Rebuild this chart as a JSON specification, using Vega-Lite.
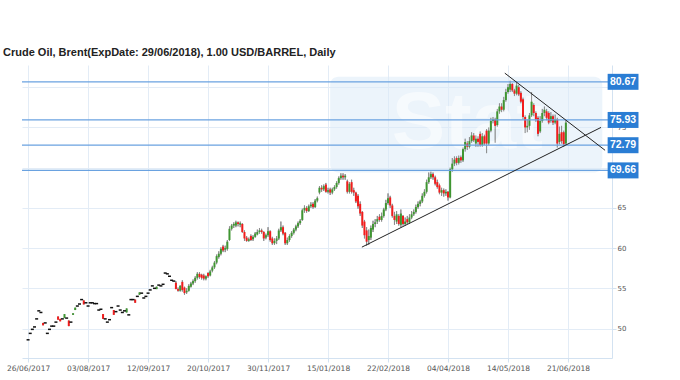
{
"$schema": "https://vega.github.io/schema/vega-lite/v6.json",
"width": 590, "height": 293,
"autosize": {"type": "none"},
"padding": {"left": 22, "top": 65, "right": 68, "bottom": 22},
"background": "white",
"title": {"text": "Crude Oil, Brent(ExpDate: 29/06/2018), 1.00 USD/BARREL, Daily", "anchor": "start", "frame": "group", "dx": -19, "dy": 10, "offset": 8, "baseline": "alphabetic", "font": "Liberation Sans", "fontSize": 11, "fontWeight": "bold", "color": "#222"},
"config": {"view": {"stroke": null}, "axis": {"gridColor": "#e3ecf6", "domainColor": "#d3e2f1", "tickColor": "#d3e2f1", "labelColor": "#555", "labelFont": "DejaVu Sans"}, "axisX": {"labelFlush": false, "labelAlign": "center", "labelOverlap": false}},
"datasets": {
"candles": [
{"i":0,"o":48.6,"h":48.6,"l":48.6,"c":48.6},{"i":1,"o":49.4,"h":49.4,"l":49.4,"c":49.4},{"i":2,"o":49.9,"h":49.9,"l":49.9,"c":49.9},{"i":3,"o":50.2,"h":50.2,"l":50.2,"c":50.2},{"i":4,"o":51.2,"h":51.2,"l":51.2,"c":51.2},{"i":5,"o":52.2,"h":52.2,"l":52.2,"c":52.2},{"i":6,"o":52.0,"h":52.0,"l":52.0,"c":52.0},{"i":7,"o":50.7,"h":50.7,"l":50.4,"c":50.4},{"i":8,"o":50.7,"h":50.7,"l":50.7,"c":50.7},{"i":9,"o":49.4,"h":49.4,"l":49.4,"c":49.4},
{"i":10,"o":49.9,"h":49.9,"l":49.9,"c":49.9},{"i":11,"o":50.3,"h":50.3,"l":50.3,"c":50.3},{"i":12,"o":50.3,"h":50.3,"l":50.3,"c":50.3},{"i":13,"o":50.8,"h":50.8,"l":50.8,"c":50.8},{"i":14,"o":51.5,"h":51.5,"l":51.1,"c":51.1},{"i":15,"o":51.2,"h":51.2,"l":50.9,"c":50.9},{"i":16,"o":51.2,"h":51.2,"l":51.2,"c":51.2},{"i":17,"o":51.3,"h":51.8,"l":51.3,"c":51.8},{"i":18,"o":51.3,"h":51.3,"l":51.3,"c":51.3},{"i":19,"o":51.0,"h":51.0,"l":50.3,"c":50.3},
{"i":20,"o":50.8,"h":50.8,"l":50.8,"c":50.8},{"i":21,"o":51.7,"h":51.9,"l":51.7,"c":51.9},{"i":22,"o":52.3,"h":52.6,"l":52.3,"c":52.6},{"i":23,"o":52.8,"h":52.8,"l":52.8,"c":52.8},{"i":24,"o":53.05,"h":53.05,"l":53.05,"c":53.05},{"i":25,"o":53.6,"h":53.6,"l":53.6,"c":53.6},{"i":26,"o":53.5,"h":53.5,"l":53.0,"c":53.0},{"i":27,"o":53.2,"h":53.2,"l":53.2,"c":53.2},{"i":28,"o":52.8,"h":52.8,"l":52.8,"c":52.8},{"i":29,"o":53.2,"h":53.2,"l":53.2,"c":53.2},
{"i":30,"o":53.2,"h":53.2,"l":53.2,"c":53.2},{"i":31,"o":53.1,"h":53.1,"l":53.1,"c":53.1},{"i":32,"o":53.1,"h":53.1,"l":53.1,"c":53.1},{"i":33,"o":52.3,"h":52.3,"l":52.3,"c":52.3},{"i":34,"o":52.4,"h":52.4,"l":52.4,"c":52.4},{"i":35,"o":51.8,"h":51.8,"l":51.2,"c":51.2},{"i":36,"o":51.2,"h":51.2,"l":51.2,"c":51.2},{"i":37,"o":50.8,"h":50.8,"l":50.8,"c":50.8},{"i":38,"o":51.1,"h":51.1,"l":51.1,"c":51.1},{"i":39,"o":52.6,"h":52.6,"l":52.6,"c":52.6},
{"i":40,"o":52.3,"h":52.3,"l":51.7,"c":51.7},{"i":41,"o":52.1,"h":52.1,"l":52.1,"c":52.1},{"i":42,"o":52.8,"h":52.8,"l":52.8,"c":52.8},{"i":43,"o":52.3,"h":52.3,"l":52.3,"c":52.3},{"i":44,"o":52.0,"h":52.0,"l":52.0,"c":52.0},{"i":45,"o":52.2,"h":52.2,"l":52.2,"c":52.2},{"i":46,"o":52.0,"h":52.5,"l":52.0,"c":52.5},{"i":47,"o":51.7,"h":51.7,"l":51.7,"c":51.7},{"i":48,"o":53.6,"h":53.6,"l":53.6,"c":53.6},{"i":49,"o":53.6,"h":53.6,"l":53.6,"c":53.6},
{"i":50,"o":53.6,"h":53.6,"l":53.2,"c":53.2},{"i":51,"o":54.0,"h":54.0,"l":54.0,"c":54.0},{"i":52,"o":54.2,"h":54.5,"l":54.2,"c":54.5},{"i":53,"o":54.4,"h":54.4,"l":54.4,"c":54.4},{"i":54,"o":53.8,"h":53.8,"l":53.8,"c":53.8},{"i":55,"o":54.0,"h":54.0,"l":54.0,"c":54.0},{"i":56,"o":54.4,"h":54.4,"l":54.4,"c":54.4},{"i":57,"o":54.8,"h":54.8,"l":54.8,"c":54.8},{"i":58,"o":55.3,"h":55.3,"l":55.3,"c":55.3},{"i":59,"o":55.0,"h":55.0,"l":55.0,"c":55.0},
{"i":60,"o":54.9,"h":55.2,"l":54.9,"c":55.2},{"i":61,"o":55.4,"h":55.4,"l":55.4,"c":55.4},{"i":62,"o":55.3,"h":55.3,"l":55.3,"c":55.3},{"i":63,"o":55.5,"h":55.5,"l":55.5,"c":55.5},{"i":64,"o":56.9,"h":56.9,"l":56.9,"c":56.9},{"i":65,"o":56.8,"h":56.8,"l":56.8,"c":56.8},{"i":66,"o":56.5,"h":56.5,"l":56.5,"c":56.5},{"i":67,"o":56.0,"h":56.0,"l":56.0,"c":56.0},{"i":68,"o":55.9,"h":55.9,"l":55.9,"c":55.9},{"i":69,"o":55.7,"h":55.9,"l":54.9,"c":54.9},
{"i":70,"o":54.9,"h":55.1,"l":54.6,"c":54.7},{"i":71,"o":54.7,"h":55.4,"l":54.6,"c":55.3},{"i":72,"o":55.8,"h":56.0,"l":54.6,"c":54.8},{"i":73,"o":55.1,"h":55.2,"l":54.2,"c":54.4},{"i":74,"o":54.5,"h":55.0,"l":54.3,"c":54.7},{"i":75,"o":54.7,"h":55.5,"l":54.6,"c":55.3},{"i":76,"o":55.2,"h":55.8,"l":55.1,"c":55.6},{"i":77,"o":55.6,"h":56.1,"l":55.4,"c":55.9},{"i":78,"o":55.9,"h":56.5,"l":55.7,"c":56.3},{"i":79,"o":56.3,"h":57.0,"l":56.1,"c":56.8},
{"i":80,"o":56.8,"h":57.0,"l":56.2,"c":56.4},{"i":81,"o":56.7,"h":56.8,"l":56.1,"c":56.3},{"i":82,"o":56.6,"h":56.8,"l":56.0,"c":56.2},{"i":83,"o":56.2,"h":56.6,"l":56.0,"c":56.5},{"i":84,"o":56.9,"h":57.0,"l":56.3,"c":56.5},{"i":85,"o":56.6,"h":57.3,"l":56.5,"c":57.1},{"i":86,"o":57.2,"h":57.8,"l":57.0,"c":57.6},{"i":87,"o":57.6,"h":58.4,"l":57.4,"c":58.2},{"i":88,"o":58.2,"h":59.2,"l":58.0,"c":59.0},{"i":89,"o":58.9,"h":59.6,"l":58.7,"c":59.3},
{"i":90,"o":59.3,"h":60.1,"l":59.1,"c":59.9},{"i":91,"o":60.2,"h":60.4,"l":59.5,"c":59.7},{"i":92,"o":59.8,"h":60.3,"l":59.5,"c":60.0},{"i":93,"o":59.9,"h":61.0,"l":59.7,"c":60.8},{"i":94,"o":61.0,"h":62.7,"l":60.9,"c":62.4},{"i":95,"o":62.4,"h":63.0,"l":62.2,"c":62.8},{"i":96,"o":62.8,"h":63.2,"l":62.5,"c":63.0},{"i":97,"o":62.8,"h":63.4,"l":62.6,"c":63.2},{"i":98,"o":63.2,"h":63.3,"l":62.7,"c":63.0},{"i":99,"o":62.9,"h":63.3,"l":62.6,"c":63.1},
{"i":100,"o":63.0,"h":63.1,"l":61.9,"c":62.0},{"i":101,"o":62.0,"h":62.2,"l":60.9,"c":61.2},{"i":102,"o":61.3,"h":61.5,"l":60.8,"c":60.9},{"i":103,"o":60.9,"h":61.3,"l":60.8,"c":61.1},{"i":104,"o":61.5,"h":61.7,"l":60.9,"c":61.0},{"i":105,"o":61.1,"h":61.6,"l":60.9,"c":61.4},{"i":106,"o":61.4,"h":62.0,"l":61.3,"c":61.8},{"i":107,"o":61.7,"h":62.3,"l":61.6,"c":62.0},{"i":108,"o":62.0,"h":62.5,"l":61.8,"c":62.2},{"i":109,"o":62.2,"h":62.4,"l":61.8,"c":62.0},
{"i":110,"o":62.0,"h":62.1,"l":60.9,"c":61.2},{"i":111,"o":61.3,"h":61.8,"l":61.1,"c":61.6},{"i":112,"o":61.6,"h":62.6,"l":61.4,"c":62.1},{"i":113,"o":62.1,"h":62.2,"l":60.8,"c":61.0},{"i":114,"o":61.2,"h":61.4,"l":60.4,"c":60.6},{"i":115,"o":60.6,"h":61.2,"l":60.4,"c":60.9},{"i":116,"o":60.9,"h":61.5,"l":60.5,"c":61.2},{"i":117,"o":61.2,"h":62.4,"l":61.0,"c":62.2},{"i":118,"o":62.2,"h":63.3,"l":62.0,"c":62.6},{"i":119,"o":62.6,"h":62.8,"l":61.6,"c":61.8},
{"i":120,"o":61.9,"h":62.0,"l":60.4,"c":60.6},{"i":121,"o":60.6,"h":61.3,"l":60.4,"c":61.0},{"i":122,"o":61.0,"h":61.7,"l":60.8,"c":61.5},{"i":123,"o":61.5,"h":62.1,"l":61.3,"c":61.9},{"i":124,"o":61.9,"h":62.5,"l":61.7,"c":62.3},{"i":125,"o":62.3,"h":62.9,"l":62.1,"c":62.7},{"i":126,"o":62.7,"h":63.3,"l":62.5,"c":63.1},{"i":127,"o":63.1,"h":63.6,"l":62.9,"c":63.4},{"i":128,"o":63.5,"h":64.9,"l":63.4,"c":64.7},{"i":129,"o":64.7,"h":65.3,"l":64.4,"c":65.0},
{"i":130,"o":65.0,"h":65.2,"l":64.4,"c":64.6},{"i":131,"o":64.6,"h":65.4,"l":64.5,"c":65.2},{"i":132,"o":65.2,"h":65.7,"l":65.0,"c":65.4},{"i":133,"o":65.5,"h":65.7,"l":64.9,"c":65.1},{"i":134,"o":65.1,"h":66.1,"l":65.0,"c":65.9},{"i":135,"o":65.9,"h":66.4,"l":65.7,"c":66.2},{"i":136,"o":66.9,"h":67.7,"l":66.7,"c":67.5},{"i":137,"o":67.5,"h":67.8,"l":67.0,"c":67.3},{"i":138,"o":67.3,"h":67.9,"l":67.1,"c":67.7},{"i":139,"o":67.9,"h":68.1,"l":66.9,"c":67.0},
{"i":140,"o":67.0,"h":67.5,"l":66.8,"c":67.2},{"i":141,"o":67.3,"h":67.5,"l":66.6,"c":66.9},{"i":142,"o":66.9,"h":67.5,"l":66.7,"c":67.3},{"i":143,"o":67.3,"h":67.8,"l":67.1,"c":67.6},{"i":144,"o":67.6,"h":68.3,"l":67.4,"c":68.1},{"i":145,"o":68.1,"h":68.9,"l":67.9,"c":68.7},{"i":146,"o":68.7,"h":69.3,"l":68.5,"c":69.0},{"i":147,"o":69.0,"h":69.3,"l":68.5,"c":68.8},{"i":148,"o":68.8,"h":69.2,"l":68.5,"c":69.0},{"i":149,"o":68.3,"h":68.5,"l":66.8,"c":67.0},
{"i":150,"o":67.0,"h":68.2,"l":66.8,"c":68.0},{"i":151,"o":68.2,"h":68.5,"l":66.8,"c":67.0},{"i":152,"o":67.2,"h":67.5,"l":66.5,"c":66.9},{"i":153,"o":66.9,"h":67.0,"l":65.6,"c":65.8},{"i":154,"o":66.5,"h":66.7,"l":64.9,"c":65.2},{"i":155,"o":65.5,"h":65.8,"l":64.0,"c":64.3},{"i":156,"o":64.5,"h":64.6,"l":62.5,"c":62.8},{"i":157,"o":63.3,"h":63.5,"l":61.2,"c":61.6},{"i":158,"o":62.2,"h":62.6,"l":60.3,"c":60.8},{"i":159,"o":61.0,"h":62.3,"l":60.4,"c":61.5},
{"i":160,"o":61.3,"h":62.8,"l":61.0,"c":62.5},{"i":161,"o":62.3,"h":63.4,"l":62.0,"c":63.0},{"i":162,"o":63.0,"h":63.6,"l":62.6,"c":63.2},{"i":163,"o":63.3,"h":64.0,"l":63.0,"c":63.6},{"i":164,"o":63.9,"h":64.2,"l":63.3,"c":63.5},{"i":165,"o":63.5,"h":64.4,"l":63.3,"c":64.0},{"i":166,"o":64.0,"h":65.0,"l":63.8,"c":64.8},{"i":167,"o":64.8,"h":66.0,"l":64.6,"c":65.6},{"i":168,"o":65.6,"h":66.8,"l":65.4,"c":66.2},{"i":169,"o":66.3,"h":66.5,"l":65.0,"c":65.3},
{"i":170,"o":65.3,"h":65.5,"l":63.8,"c":64.0},{"i":171,"o":64.0,"h":64.5,"l":62.9,"c":63.5},{"i":172,"o":63.3,"h":64.6,"l":63.0,"c":64.2},{"i":173,"o":64.0,"h":64.2,"l":62.8,"c":63.0},{"i":174,"o":62.9,"h":64.8,"l":62.6,"c":64.3},{"i":175,"o":64.0,"h":64.1,"l":62.8,"c":63.0},{"i":176,"o":63.0,"h":63.8,"l":62.8,"c":63.3},{"i":177,"o":63.6,"h":64.0,"l":63.0,"c":63.2},{"i":178,"o":63.2,"h":64.2,"l":63.0,"c":63.8},{"i":179,"o":63.8,"h":64.6,"l":63.6,"c":64.2},
{"i":180,"o":64.2,"h":64.8,"l":64.0,"c":64.5},{"i":181,"o":64.5,"h":65.4,"l":64.3,"c":65.1},{"i":182,"o":65.1,"h":65.8,"l":64.9,"c":65.5},{"i":183,"o":65.5,"h":66.0,"l":65.2,"c":65.8},{"i":184,"o":65.8,"h":66.8,"l":65.6,"c":66.5},{"i":185,"o":66.5,"h":67.3,"l":66.3,"c":67.0},{"i":186,"o":67.0,"h":68.5,"l":66.8,"c":68.2},{"i":187,"o":68.2,"h":69.4,"l":68.0,"c":68.8},{"i":188,"o":68.8,"h":69.5,"l":68.6,"c":69.2},{"i":189,"o":69.2,"h":69.4,"l":68.5,"c":68.8},
{"i":190,"o":68.8,"h":69.0,"l":67.8,"c":68.0},{"i":191,"o":68.2,"h":68.5,"l":67.4,"c":67.6},{"i":192,"o":67.8,"h":68.0,"l":66.7,"c":66.9},{"i":193,"o":66.9,"h":67.5,"l":66.5,"c":67.2},{"i":194,"o":67.2,"h":67.4,"l":66.4,"c":66.8},{"i":195,"o":66.8,"h":67.3,"l":66.5,"c":67.0},{"i":196,"o":67.0,"h":67.1,"l":65.9,"c":66.3},{"i":197,"o":66.3,"h":70.0,"l":66.2,"c":69.8},{"i":198,"o":69.8,"h":71.2,"l":69.5,"c":70.5},{"i":199,"o":70.5,"h":71.4,"l":70.2,"c":71.0},
{"i":200,"o":71.2,"h":71.4,"l":70.3,"c":70.6},{"i":201,"o":70.6,"h":71.5,"l":70.4,"c":71.2},{"i":202,"o":71.3,"h":71.5,"l":70.6,"c":70.9},{"i":203,"o":70.9,"h":72.5,"l":70.7,"c":72.3},{"i":204,"o":72.3,"h":73.6,"l":72.0,"c":73.2},{"i":205,"o":73.0,"h":73.3,"l":72.2,"c":72.6},{"i":206,"o":72.6,"h":73.8,"l":72.4,"c":73.3},{"i":207,"o":73.3,"h":74.4,"l":73.1,"c":74.0},{"i":208,"o":74.0,"h":74.3,"l":73.2,"c":73.4},{"i":209,"o":73.0,"h":74.0,"l":72.6,"c":73.6},
{"i":210,"o":73.6,"h":73.9,"l":72.6,"c":73.2},{"i":211,"o":74.2,"h":74.5,"l":72.6,"c":72.8},{"i":212,"o":72.8,"h":74.3,"l":72.6,"c":73.9},{"i":213,"o":73.9,"h":74.1,"l":72.8,"c":73.0},{"i":214,"o":74.6,"h":74.8,"l":71.8,"c":73.0},{"i":215,"o":73.0,"h":75.0,"l":72.8,"c":74.6},{"i":216,"o":74.6,"h":76.2,"l":74.4,"c":75.8},{"i":217,"o":75.8,"h":76.3,"l":75.5,"c":76.0},{"i":218,"o":76.0,"h":76.2,"l":73.1,"c":75.2},{"i":219,"o":75.3,"h":77.3,"l":75.1,"c":77.0},
{"i":220,"o":77.0,"h":78.0,"l":76.7,"c":77.6},{"i":221,"o":77.6,"h":78.0,"l":76.9,"c":77.2},{"i":222,"o":77.2,"h":78.8,"l":77.0,"c":78.4},{"i":223,"o":78.4,"h":79.8,"l":78.2,"c":79.4},{"i":224,"o":79.4,"h":80.4,"l":79.2,"c":80.0},{"i":225,"o":79.7,"h":80.8,"l":79.4,"c":80.4},{"i":226,"o":80.4,"h":80.5,"l":79.4,"c":79.6},{"i":227,"o":79.6,"h":79.8,"l":78.9,"c":79.2},{"i":228,"o":79.2,"h":80.7,"l":79.0,"c":80.2},{"i":229,"o":80.0,"h":80.3,"l":78.9,"c":79.1},
{"i":230,"o":79.3,"h":79.5,"l":78.0,"c":78.2},{"i":231,"o":78.5,"h":78.7,"l":76.0,"c":76.3},{"i":232,"o":76.3,"h":76.5,"l":74.3,"c":75.0},{"i":233,"o":75.0,"h":76.0,"l":74.4,"c":75.2},{"i":234,"o":75.2,"h":76.8,"l":74.7,"c":76.5},{"i":235,"o":76.5,"h":79.4,"l":76.3,"c":78.2},{"i":236,"o":77.8,"h":78.0,"l":76.4,"c":76.8},{"i":237,"o":76.8,"h":77.0,"l":75.7,"c":76.0},{"i":238,"o":76.2,"h":76.4,"l":73.9,"c":74.2},{"i":239,"o":74.5,"h":76.4,"l":74.3,"c":75.8},
{"i":240,"o":75.8,"h":77.3,"l":75.6,"c":76.8},{"i":241,"o":76.8,"h":77.6,"l":76.4,"c":77.2},{"i":242,"o":77.0,"h":77.3,"l":75.9,"c":76.2},{"i":243,"o":76.8,"h":77.0,"l":75.4,"c":75.6},{"i":244,"o":75.8,"h":76.9,"l":75.6,"c":76.4},{"i":245,"o":76.4,"h":76.6,"l":75.3,"c":75.6},{"i":246,"o":75.6,"h":76.6,"l":75.4,"c":76.0},{"i":247,"o":76.0,"h":76.2,"l":72.5,"c":73.0},{"i":248,"o":73.2,"h":75.1,"l":72.9,"c":74.2},{"i":249,"o":74.4,"h":75.2,"l":73.0,"c":73.3},
{"i":250,"o":74.4,"h":74.6,"l":72.6,"c":72.9},{"i":251,"o":73.0,"h":75.9,"l":72.8,"c":75.6}
],
"levels": [{"level": 80.67}, {"level": 75.93}, {"level": 72.79}, {"level": 69.66}],
"trend": [
{"line": "resistance", "x": 222.5, "y": 81.75}, {"line": "resistance", "x": 269.3, "y": 72.16},
{"line": "support", "x": 155.8, "y": 60.12}, {"line": "support", "x": 267.4, "y": 75.0}
],
"watermark": [{"word": "Stat"}]
},
"layer": [
{"data": {"name": "candles"}, "mark": {"type": "rule", "color": "#8c8c8c", "strokeWidth": 1},
 "encoding": {
  "x": {"field": "i", "type": "quantitative", "scale": {"domain": [-0.5, 270.2], "nice": false, "zero": false},
   "axis": {"title": null, "values": [0, 28, 56, 84, 112, 140, 168, 196, 224, 252], "labelExpr": "datum.value == 0 ? '26/06/2017' : datum.value == 28 ? '03/08/2017' : datum.value == 56 ? '12/09/2017' : datum.value == 84 ? '20/10/2017' : datum.value == 112 ? '30/11/2017' : datum.value == 140 ? '15/01/2018' : datum.value == 168 ? '22/02/2018' : datum.value == 196 ? '04/04/2018' : datum.value == 224 ? '14/05/2018' : '21/06/2018'", "labelFontSize": 7.5, "tickSize": 4, "labelPadding": 2, "grid": true, "labelFlush": false, "labelAlign": "center", "labelOverlap": false}},
  "y": {"field": "l", "type": "quantitative", "scale": {"domain": [46.96, 82.14], "nice": false, "zero": false},
   "axis": {"title": null, "orient": "right", "values": [50, 55, 60, 65, 70, 75, 80], "labelExpr": "datum.value == 70 || datum.value == 80 ? '' : datum.label", "labelFontSize": 7, "tickSize": 4, "labelPadding": 1, "grid": true}},
  "y2": {"field": "h"}
 }},
{"data": {"name": "watermark"}, "mark": {"type": "rect", "color": "#dcebf8", "opacity": 0.55, "cornerRadius": 8},
 "encoding": {
  "x": {"datum": 141, "type": "quantitative"},
  "x2": {"datum": 268},
  "y": {"datum": 69.4, "type": "quantitative", "axis": {"orient": "right"}},
  "y2": {"datum": 81.3}
 }},
{"data": {"name": "watermark"}, "mark": {"type": "text", "color": "white", "opacity": 0.55, "font": "Liberation Sans", "fontSize": 80, "fontWeight": "bold", "align": "center", "baseline": "middle"},
 "encoding": {
  "x": {"datum": 205, "type": "quantitative"},
  "y": {"datum": 75.4, "type": "quantitative", "axis": {"orient": "right"}},
  "text": {"field": "word"}
 }},
{"data": {"name": "candles"}, "mark": {"type": "rule", "color": "#8c8c8c", "strokeWidth": 1},
 "encoding": {
  "x": {"field": "i", "type": "quantitative"},
  "y": {"field": "l", "type": "quantitative", "axis": {"orient": "right"}},
  "y2": {"field": "h"}
 }},
{"data": {"name": "candles"}, "transform": [{"filter": "datum.o != datum.c"}],
 "mark": {"type": "bar", "width": 2, "opacity": 1},
 "encoding": {
  "x": {"field": "i", "type": "quantitative"},
  "y": {"field": "o", "type": "quantitative", "axis": {"orient": "right"}},
  "y2": {"field": "c"},
  "color": {"condition": {"test": "datum.c > datum.o", "value": "#3f9631"}, "value": "#f21c1c"}
 }},
{"data": {"name": "candles"}, "transform": [{"filter": "datum.o == datum.c"}],
 "mark": {"type": "tick", "orient": "horizontal", "size": 3, "thickness": 1.5, "color": "#111", "opacity": 1},
 "encoding": {
  "x": {"field": "i", "type": "quantitative"},
  "y": {"field": "c", "type": "quantitative", "axis": {"orient": "right"}}
 }},
{"data": {"name": "levels"}, "mark": {"type": "rule", "color": "#6aa2e0", "strokeWidth": 1.3},
 "encoding": {"y": {"field": "level", "type": "quantitative", "axis": {"orient": "right"}}}},
{"data": {"name": "trend"}, "mark": {"type": "line", "color": "#222", "strokeWidth": 1},
 "encoding": {
  "x": {"field": "x", "type": "quantitative"},
  "y": {"field": "y", "type": "quantitative", "axis": {"orient": "right"}},
  "detail": {"field": "line"}
 }},
{"data": {"name": "levels"}, "mark": {"type": "bar", "orient": "horizontal", "height": 16, "color": "#2a7dd4", "opacity": 1},
 "encoding": {
  "x": {"datum": 270.5, "type": "quantitative"},
  "x2": {"datum": 284.9},
  "y": {"field": "level", "type": "quantitative", "axis": {"orient": "right"}}
 }},
{"data": {"name": "levels"}, "mark": {"type": "text", "color": "white", "font": "Liberation Sans", "fontSize": 10.5, "fontWeight": "bold", "align": "center", "baseline": "middle"},
 "encoding": {
  "x": {"datum": 277.7, "type": "quantitative"},
  "y": {"field": "level", "type": "quantitative", "axis": {"orient": "right"}},
  "text": {"field": "level", "type": "quantitative", "format": ".2f"}
 }}
]
}
